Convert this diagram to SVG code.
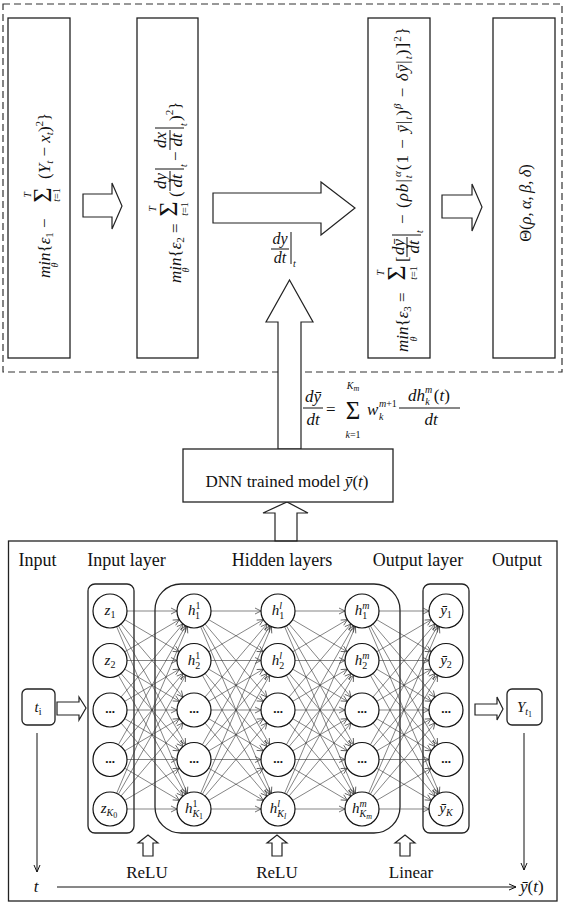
<svg xmlns="http://www.w3.org/2000/svg" width="566" height="904" viewBox="0 0 566 904">
<style>
text{font-family:"Liberation Serif","DejaVu Serif",serif;fill:#111}
.i{font-style:italic}
.fm{font-size:17px}
.sb{font-size:11px}
.sm{font-size:10px}
.sg{font-size:26px}
.box{fill:#fff;stroke:#222;stroke-width:1.3}
.lay{fill:none;stroke:#222;stroke-width:1.3}
.ha{fill:#fff;stroke:#222;stroke-width:1.2}
.bar{stroke:#111;stroke-width:1}
.nd{fill:#fff;stroke:#111;stroke-width:1.2}
.nl{font-size:15px}
.ns{font-size:10px}
.nss{font-size:8px}
.dots{font-size:13px;font-weight:bold}
.hd{font-size:18px}
.c line{stroke:#333;stroke-width:0.6;marker-end:url(#ah)}
.ax{stroke:#111;stroke-width:1;fill:none;marker-end:url(#axh)}
</style>
<defs>
<marker id="ah" markerUnits="userSpaceOnUse" markerWidth="30" markerHeight="8" refX="23" refY="3" orient="auto" overflow="visible"><path d="M0,0 L6,3 L0,6" fill="none" stroke="#333" stroke-width="0.7"/></marker>
<marker id="axh" markerUnits="userSpaceOnUse" markerWidth="10" markerHeight="8" refX="7" refY="3" orient="auto" overflow="visible"><path d="M0,0 L7,3 L0,6" fill="none" stroke="#111" stroke-width="1"/></marker>
</defs>
<rect x="0" y="0" width="566" height="904" fill="#fff"/>

<g id="top-frame">
<rect x="3" y="4" width="559" height="368" fill="none" stroke="#333" stroke-width="1.2" stroke-dasharray="7 4"/>
</g>

<g id="box1">
<rect class="box" x="8" y="18" width="62" height="340"/>
<g transform="rotate(-90)">
<text x="-278" y="50" class="fm"><tspan class="i">min</tspan>{<tspan class="i">ε</tspan><tspan class="sb" dy="3">1</tspan><tspan dy="-3"> − </tspan></text>
<text x="-265" y="58" class="sm i" text-anchor="middle">θ</text>
<text x="-195" y="51" class="sg" text-anchor="middle">Σ</text>
<text x="-195" y="31" class="sm i" text-anchor="middle">T</text>
<text x="-195" y="60" class="sm" text-anchor="middle"><tspan class="i">t</tspan>=1</text>
<text x="-179" y="50" class="fm">(<tspan class="i">Y</tspan><tspan class="sb i" dy="3">t</tspan><tspan dy="-3"> − </tspan><tspan class="i">x</tspan><tspan class="sb i" dy="3">t</tspan><tspan dy="-3">)</tspan><tspan class="sb" dy="-7">2</tspan><tspan dy="7">}</tspan></text>
</g>
</g>

<g id="box2">
<rect class="box" x="137" y="18" width="61" height="340"/>
<g transform="rotate(-90)">
<text x="-283" y="181" class="fm"><tspan class="i">min</tspan>{<tspan class="i">ε</tspan><tspan class="sb" dy="3">2</tspan><tspan dy="-3"> = </tspan></text>
<text x="-270" y="189" class="sm i" text-anchor="middle">θ</text>
<text x="-209" y="177" class="sg" text-anchor="middle">Σ</text>
<text x="-209" y="156" class="sm i" text-anchor="middle">T</text>
<text x="-209" y="188" class="sm" text-anchor="middle"><tspan class="i">t</tspan>=1</text>
<text x="-197" y="181" class="fm">(</text>
<text x="-181" y="166" class="fm i" text-anchor="middle">dy</text>
<line class="bar" x1="-191" y1="170" x2="-171" y2="170"/>
<text x="-181" y="182" class="fm i" text-anchor="middle">dt</text>
<line class="bar" x1="-169" y1="155" x2="-169" y2="184"/>
<text x="-167" y="187" class="ns i">t</text>
<text x="-161" y="181" class="fm">−</text>
<text x="-140" y="166" class="fm i" text-anchor="middle">dx</text>
<line class="bar" x1="-150" y1="170" x2="-130" y2="170"/>
<text x="-140" y="182" class="fm i" text-anchor="middle">dt</text>
<line class="bar" x1="-128" y1="155" x2="-128" y2="184"/>
<text x="-126" y="187" class="ns i">t</text>
<text x="-121" y="181" class="fm">)<tspan class="sb" dy="-8">2</tspan><tspan dy="8">}</tspan></text>
</g>
</g>

<g id="box3">
<rect class="box" x="368" y="18" width="62" height="340"/>
<g transform="rotate(-90)">
<text x="-352" y="408" class="fm"><tspan class="i">min</tspan>{<tspan class="i">ε</tspan><tspan class="sb" dy="3">3</tspan><tspan dy="-3"> = </tspan></text>
<text x="-339" y="417" class="sm i" text-anchor="middle">θ</text>
<text x="-273" y="405" class="sg" text-anchor="middle">Σ</text>
<text x="-273" y="384" class="sm i" text-anchor="middle">T</text>
<text x="-273" y="417" class="sm" text-anchor="middle"><tspan class="i">t</tspan>=1</text>
<text x="-262" y="408" class="fm">[</text>
<text x="-247" y="404" class="fm i" text-anchor="middle">dȳ</text>
<line class="bar" x1="-257" y1="407" x2="-237" y2="407"/>
<text x="-247" y="419" class="fm i" text-anchor="middle">dt</text>
<line class="bar" x1="-235" y1="392" x2="-235" y2="421"/>
<text x="-233" y="423" class="ns i">t</text>
<text x="-224" y="408" class="fm" textLength="197" lengthAdjust="spacing">− (<tspan class="i">ρb</tspan>|<tspan class="sb i" dy="4">t</tspan><tspan class="sb i" dx="-3" dy="-11">α</tspan><tspan dy="7">(1 − </tspan><tspan class="i">ȳ</tspan>|<tspan class="sb i" dy="4">t</tspan><tspan dy="-4">)</tspan><tspan class="sb i" dy="-7">β</tspan><tspan dy="7"> − </tspan><tspan class="i">δȳ</tspan>|<tspan class="sb i" dy="4">t</tspan><tspan dy="-4">)]</tspan><tspan class="sb" dy="-7">2</tspan><tspan dy="7">}</tspan></text>
</g>
</g>

<g id="box4">
<rect class="box" x="493" y="18" width="62" height="340"/>
<g transform="rotate(-90)">
<text x="-203" y="531" font-size="16.5" text-anchor="middle">Θ(<tspan class="i">ρ,&#8201;α,&#8201;β,&#8201;δ</tspan>)</text>
</g>
</g>

<g id="dydt-label">
<text x="280" y="244" font-size="16" class="i" text-anchor="middle">dy</text>
<line class="bar" x1="271" y1="249" x2="289" y2="249"/>
<text x="280" y="263" font-size="16" class="i" text-anchor="middle">dt</text>
<line class="bar" x1="291" y1="232" x2="291" y2="264"/>
<text x="293" y="267" class="ns i">t</text>
</g>

<g id="deriv-formula">
<text x="313" y="402" class="fm i" text-anchor="middle">dȳ</text>
<line class="bar" x1="303" y1="408" x2="323" y2="408"/>
<text x="313" y="425" class="fm i" text-anchor="middle">dt</text>
<text x="326" y="415" class="fm">=</text>
<text x="353" y="419" font-size="25" text-anchor="middle">Σ</text>
<text x="353" y="389" class="sm i" text-anchor="middle">K<tspan class="nss" dy="2">m</tspan></text>
<text x="353" y="438" class="sm" text-anchor="middle"><tspan class="i">k</tspan>=1</text>
<text x="367" y="415" class="fm i">w</text>
<text x="379" y="407" class="ns"><tspan class="i">m</tspan>+1</text>
<text x="379" y="420" class="ns i">k</text>
<text x="429" y="401" class="fm" text-anchor="middle"><tspan class="i">dh</tspan><tspan class="ns i" dy="-8">m</tspan><tspan class="ns i" dx="-7" dy="12">k</tspan><tspan dx="4" dy="-4">(</tspan><tspan class="i">t</tspan>)</text>
<line class="bar" x1="399" y1="408" x2="460" y2="408"/>
<text x="431" y="425" class="fm i" text-anchor="middle">dt</text>
</g>

<g id="flow-arrows">
<polygon class="ha" points="83,194 112,194 112,183 122,206 112,229 112,217 83,217"/>
<polygon class="ha" points="213,193 321,193 321,182 355,208 321,235 321,223 213,223"/>
<polygon class="ha" points="442,195 472,195 472,184 482,207 472,231 472,218 442,218"/>
<polygon class="ha" points="278,449 278,322 266,322 289.5,280 313,322 301,322 301,449"/>
<polygon class="ha" points="275,541 275,513 263,513 287,502 308,513 297,513 297,541"/>
</g>

<g id="dnn-model">
<rect class="box" x="183" y="449" width="210" height="53"/>
<text x="287" y="487" font-size="17" text-anchor="middle">DNN trained model <tspan class="i">ȳ</tspan>(<tspan class="i">t</tspan>)</text>
</g>

<g id="bottom-frame">
<rect x="8.5" y="541" width="548.5" height="360" fill="none" stroke="#222" stroke-width="1.3"/>
<text x="37.5" y="566" class="hd" text-anchor="middle">Input</text>
<text x="126.5" y="566" class="hd" text-anchor="middle">Input layer</text>
<text x="282" y="566" class="hd" text-anchor="middle">Hidden layers</text>
<text x="418" y="566" class="hd" text-anchor="middle">Output layer</text>
<text x="517" y="566" class="hd" text-anchor="middle">Output</text>
</g>

<g id="layer-boxes">
<rect class="lay" x="88" y="584" width="46" height="249" rx="7"/>
<rect class="lay" x="155" y="584" width="245" height="249" rx="26"/>
<rect class="lay" x="423" y="584" width="46" height="249" rx="7"/>
</g>

<g id="connectors">
<g class="c">
<line x1="110" y1="611" x2="194" y2="611"/><line x1="110" y1="611" x2="194" y2="660.5"/><line x1="110" y1="611" x2="194" y2="710"/><line x1="110" y1="611" x2="194" y2="759.5"/><line x1="110" y1="611" x2="194" y2="809"/>
<line x1="110" y1="660.5" x2="194" y2="611"/><line x1="110" y1="660.5" x2="194" y2="660.5"/><line x1="110" y1="660.5" x2="194" y2="710"/><line x1="110" y1="660.5" x2="194" y2="759.5"/><line x1="110" y1="660.5" x2="194" y2="809"/>
<line x1="110" y1="710" x2="194" y2="611"/><line x1="110" y1="710" x2="194" y2="660.5"/><line x1="110" y1="710" x2="194" y2="710"/><line x1="110" y1="710" x2="194" y2="759.5"/><line x1="110" y1="710" x2="194" y2="809"/>
<line x1="110" y1="759.5" x2="194" y2="611"/><line x1="110" y1="759.5" x2="194" y2="660.5"/><line x1="110" y1="759.5" x2="194" y2="710"/><line x1="110" y1="759.5" x2="194" y2="759.5"/><line x1="110" y1="759.5" x2="194" y2="809"/>
<line x1="110" y1="809" x2="194" y2="611"/><line x1="110" y1="809" x2="194" y2="660.5"/><line x1="110" y1="809" x2="194" y2="710"/><line x1="110" y1="809" x2="194" y2="759.5"/><line x1="110" y1="809" x2="194" y2="809"/>

<line x1="194" y1="611" x2="278" y2="611"/><line x1="194" y1="611" x2="278" y2="660.5"/><line x1="194" y1="611" x2="278" y2="710"/><line x1="194" y1="611" x2="278" y2="759.5"/><line x1="194" y1="611" x2="278" y2="809"/>
<line x1="194" y1="660.5" x2="278" y2="611"/><line x1="194" y1="660.5" x2="278" y2="660.5"/><line x1="194" y1="660.5" x2="278" y2="710"/><line x1="194" y1="660.5" x2="278" y2="759.5"/><line x1="194" y1="660.5" x2="278" y2="809"/>
<line x1="194" y1="710" x2="278" y2="611"/><line x1="194" y1="710" x2="278" y2="660.5"/><line x1="194" y1="710" x2="278" y2="710"/><line x1="194" y1="710" x2="278" y2="759.5"/><line x1="194" y1="710" x2="278" y2="809"/>
<line x1="194" y1="759.5" x2="278" y2="611"/><line x1="194" y1="759.5" x2="278" y2="660.5"/><line x1="194" y1="759.5" x2="278" y2="710"/><line x1="194" y1="759.5" x2="278" y2="759.5"/><line x1="194" y1="759.5" x2="278" y2="809"/>
<line x1="194" y1="809" x2="278" y2="611"/><line x1="194" y1="809" x2="278" y2="660.5"/><line x1="194" y1="809" x2="278" y2="710"/><line x1="194" y1="809" x2="278" y2="759.5"/><line x1="194" y1="809" x2="278" y2="809"/>

<line x1="278" y1="611" x2="362" y2="611"/><line x1="278" y1="611" x2="362" y2="660.5"/><line x1="278" y1="611" x2="362" y2="710"/><line x1="278" y1="611" x2="362" y2="759.5"/><line x1="278" y1="611" x2="362" y2="809"/>
<line x1="278" y1="660.5" x2="362" y2="611"/><line x1="278" y1="660.5" x2="362" y2="660.5"/><line x1="278" y1="660.5" x2="362" y2="710"/><line x1="278" y1="660.5" x2="362" y2="759.5"/><line x1="278" y1="660.5" x2="362" y2="809"/>
<line x1="278" y1="710" x2="362" y2="611"/><line x1="278" y1="710" x2="362" y2="660.5"/><line x1="278" y1="710" x2="362" y2="710"/><line x1="278" y1="710" x2="362" y2="759.5"/><line x1="278" y1="710" x2="362" y2="809"/>
<line x1="278" y1="759.5" x2="362" y2="611"/><line x1="278" y1="759.5" x2="362" y2="660.5"/><line x1="278" y1="759.5" x2="362" y2="710"/><line x1="278" y1="759.5" x2="362" y2="759.5"/><line x1="278" y1="759.5" x2="362" y2="809"/>
<line x1="278" y1="809" x2="362" y2="611"/><line x1="278" y1="809" x2="362" y2="660.5"/><line x1="278" y1="809" x2="362" y2="710"/><line x1="278" y1="809" x2="362" y2="759.5"/><line x1="278" y1="809" x2="362" y2="809"/>

<line x1="362" y1="611" x2="446" y2="611"/><line x1="362" y1="611" x2="446" y2="660.5"/><line x1="362" y1="611" x2="446" y2="710"/><line x1="362" y1="611" x2="446" y2="759.5"/><line x1="362" y1="611" x2="446" y2="809"/>
<line x1="362" y1="660.5" x2="446" y2="611"/><line x1="362" y1="660.5" x2="446" y2="660.5"/><line x1="362" y1="660.5" x2="446" y2="710"/><line x1="362" y1="660.5" x2="446" y2="759.5"/><line x1="362" y1="660.5" x2="446" y2="809"/>
<line x1="362" y1="710" x2="446" y2="611"/><line x1="362" y1="710" x2="446" y2="660.5"/><line x1="362" y1="710" x2="446" y2="710"/><line x1="362" y1="710" x2="446" y2="759.5"/><line x1="362" y1="710" x2="446" y2="809"/>
<line x1="362" y1="759.5" x2="446" y2="611"/><line x1="362" y1="759.5" x2="446" y2="660.5"/><line x1="362" y1="759.5" x2="446" y2="710"/><line x1="362" y1="759.5" x2="446" y2="759.5"/><line x1="362" y1="759.5" x2="446" y2="809"/>
<line x1="362" y1="809" x2="446" y2="611"/><line x1="362" y1="809" x2="446" y2="660.5"/><line x1="362" y1="809" x2="446" y2="710"/><line x1="362" y1="809" x2="446" y2="759.5"/><line x1="362" y1="809" x2="446" y2="809"/>
</g>
<polygon class="ha" points="57,702 79,702 79,697 86,708 79,720 79,715 57,715"/>
<polygon class="ha" points="475,704 497,704 497,697 503,709 497,720 497,715 475,715"/>
<polygon class="ha" points="143,856 143,843 138,843 148,835 158,843 153,843 153,856"/>
<polygon class="ha" points="272,856 272,843 267,843 277,835 287,843 282,843 282,856"/>
<polygon class="ha" points="400,856 400,843 395,843 405,835 415,843 410,843 410,856"/>
<line class="ax" x1="37" y1="733" x2="37" y2="872"/>
<line class="ax" x1="524" y1="733" x2="524" y2="870"/>
<line class="ax" x1="57" y1="887" x2="516" y2="887"/>
</g>

<g id="input-ti">
<rect class="lay" x="22" y="689" width="33" height="36" rx="5"/>
<text x="38" y="712" class="nl" text-anchor="middle"><tspan class="i">t</tspan><tspan class="ns" dy="3">i</tspan></text>
</g>
<g id="output-Y">
<rect class="lay" x="507" y="689" width="35" height="36" rx="5"/>
<text x="524.5" y="712" class="nl" text-anchor="middle"><tspan class="i">Y</tspan><tspan class="ns i" dy="3">t</tspan><tspan class="nss" dy="2">1</tspan></text>
</g>

<g id="input-layer">
<circle class="nd" cx="110" cy="611" r="17"/><text x="110" y="615" class="nl" text-anchor="middle"><tspan class="i">z</tspan><tspan class="ns" dy="3">1</tspan></text>
<circle class="nd" cx="110" cy="660.5" r="17"/><text x="110" y="664.5" class="nl" text-anchor="middle"><tspan class="i">z</tspan><tspan class="ns" dy="3">2</tspan></text>
<circle class="nd" cx="110" cy="710" r="17"/><text x="110" y="713" class="dots" text-anchor="middle">...</text>
<circle class="nd" cx="110" cy="759.5" r="17"/><text x="110" y="762.5" class="dots" text-anchor="middle">...</text>
<circle class="nd" cx="110" cy="809" r="17"/><text x="109" y="813" class="nl" text-anchor="middle"><tspan class="i">z</tspan><tspan class="ns i" dy="3">K</tspan><tspan class="nss" dy="2">0</tspan></text>
</g>

<g id="hidden-layer-1">
<circle class="nd" cx="194" cy="611" r="17"/><text x="194" y="615" class="nl" text-anchor="middle"><tspan class="i">h</tspan><tspan class="ns" dy="-6">1</tspan><tspan class="ns" dx="-5" dy="10">1</tspan></text>
<circle class="nd" cx="194" cy="660.5" r="17"/><text x="194" y="664.5" class="nl" text-anchor="middle"><tspan class="i">h</tspan><tspan class="ns" dy="-6">1</tspan><tspan class="ns" dx="-5" dy="10">2</tspan></text>
<circle class="nd" cx="194" cy="710" r="17"/><text x="194" y="713" class="dots" text-anchor="middle">...</text>
<circle class="nd" cx="194" cy="759.5" r="17"/><text x="194" y="762.5" class="dots" text-anchor="middle">...</text>
<circle class="nd" cx="194" cy="809" r="17"/><text x="194" y="813" class="nl" text-anchor="middle"><tspan class="i">h</tspan><tspan class="ns" dy="-6">1</tspan><tspan class="ns i" dx="-5" dy="10">K</tspan><tspan class="nss" dy="2">1</tspan></text>
</g>

<g id="hidden-layer-l">
<circle class="nd" cx="278" cy="611" r="17"/><text x="278" y="615" class="nl" text-anchor="middle"><tspan class="i">h</tspan><tspan class="ns i" dy="-6">l</tspan><tspan class="ns" dx="-2.8" dy="10">1</tspan></text>
<circle class="nd" cx="278" cy="660.5" r="17"/><text x="278" y="664.5" class="nl" text-anchor="middle"><tspan class="i">h</tspan><tspan class="ns i" dy="-6">l</tspan><tspan class="ns" dx="-2.8" dy="10">2</tspan></text>
<circle class="nd" cx="278" cy="710" r="17"/><text x="278" y="713" class="dots" text-anchor="middle">...</text>
<circle class="nd" cx="278" cy="759.5" r="17"/><text x="278" y="762.5" class="dots" text-anchor="middle">...</text>
<circle class="nd" cx="278" cy="809" r="17"/><text x="278" y="813" class="nl" text-anchor="middle"><tspan class="i">h</tspan><tspan class="ns i" dy="-6">l</tspan><tspan class="ns i" dx="-2.8" dy="10">K</tspan><tspan class="nss i" dy="2">l</tspan></text>
</g>

<g id="hidden-layer-m">
<circle class="nd" cx="362" cy="611" r="17"/><text x="362" y="615" class="nl" text-anchor="middle"><tspan class="i">h</tspan><tspan class="ns i" dy="-6">m</tspan><tspan class="ns" dx="-7.2" dy="10">1</tspan></text>
<circle class="nd" cx="362" cy="660.5" r="17"/><text x="362" y="664.5" class="nl" text-anchor="middle"><tspan class="i">h</tspan><tspan class="ns i" dy="-6">m</tspan><tspan class="ns" dx="-7.2" dy="10">2</tspan></text>
<circle class="nd" cx="362" cy="710" r="17"/><text x="362" y="713" class="dots" text-anchor="middle">...</text>
<circle class="nd" cx="362" cy="759.5" r="17"/><text x="362" y="762.5" class="dots" text-anchor="middle">...</text>
<circle class="nd" cx="362" cy="809" r="17"/><text x="362" y="813" class="nl" text-anchor="middle"><tspan class="i">h</tspan><tspan class="ns i" dy="-6">m</tspan><tspan class="ns i" dx="-7.2" dy="10">K</tspan><tspan class="nss i" dy="2">m</tspan></text>
</g>

<g id="output-layer">
<circle class="nd" cx="446" cy="611" r="17"/><text x="446" y="615" class="nl" text-anchor="middle"><tspan class="i">ȳ</tspan><tspan class="ns" dy="3">1</tspan></text>
<circle class="nd" cx="446" cy="660.5" r="17"/><text x="446" y="664.5" class="nl" text-anchor="middle"><tspan class="i">ȳ</tspan><tspan class="ns" dy="3">2</tspan></text>
<circle class="nd" cx="446" cy="710" r="17"/><text x="446" y="713" class="dots" text-anchor="middle">...</text>
<circle class="nd" cx="446" cy="759.5" r="17"/><text x="446" y="762.5" class="dots" text-anchor="middle">...</text>
<circle class="nd" cx="446" cy="809" r="17"/><text x="446" y="813" class="nl" text-anchor="middle"><tspan class="i">ȳ</tspan><tspan class="ns i" dy="3">K</tspan></text>
</g>

<g id="axis-labels">
<text x="147" y="878" font-size="17" text-anchor="middle">ReLU</text>
<text x="277" y="878" font-size="17" text-anchor="middle">ReLU</text>
<text x="411" y="878" font-size="17" text-anchor="middle">Linear</text>
<text x="36" y="892" font-size="17" class="i" text-anchor="middle">t</text>
<text x="520" y="892" font-size="17"><tspan class="i">ȳ</tspan>(<tspan class="i">t</tspan>)</text>
</g>
</svg>
